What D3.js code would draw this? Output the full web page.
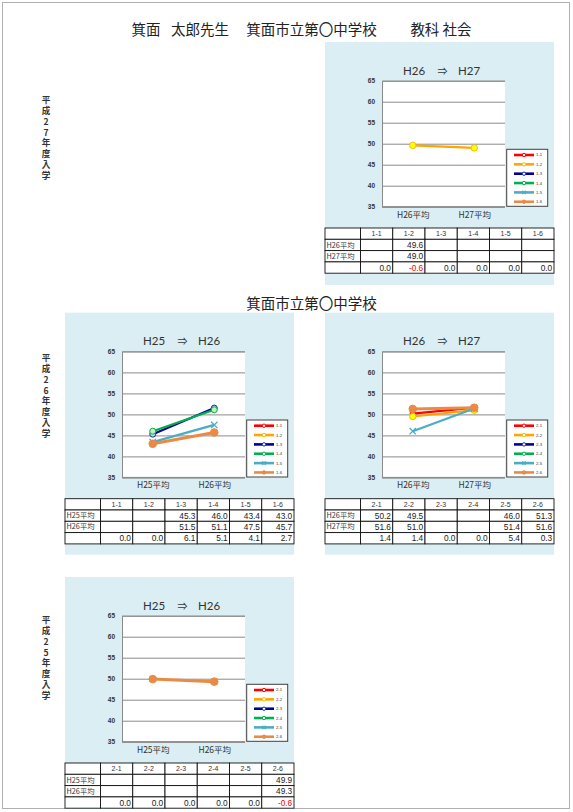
<!DOCTYPE html>
<html><head><meta charset="utf-8">
<script src="https://cdn.jsdelivr.net/npm/d3@7"></script>
<style>body{margin:0;background:#fff;} svg{display:block;}
.vlab{writing-mode:vertical-rl;text-orientation:upright;}</style>
</head><body>
<svg id="c" width="573" height="812"></svg>
<script>
// ---------- DATA ----------
const yTicks = [35, 40, 45, 50, 55, 60, 65];
const classes1 = ["1-1", "1-2", "1-3", "1-4", "1-5", "1-6"];
const classes2 = ["2-1", "2-2", "2-3", "2-4", "2-5", "2-6"];

// 平成27年度入学
const h27Periods = ["H26平均", "H27平均"];
const h27Title = ["H26", "H27"];
const h27Prev = [null, 49.6, null, null, null, null];
const h27Curr = [null, 49.0, null, null, null, null];
const h27Diff = [0.0, -0.6, 0.0, 0.0, 0.0, 0.0];

// 平成26年度入学 (left)
const h26aPeriods = ["H25平均", "H26平均"];
const h26aTitle = ["H25", "H26"];
const h26aPrev = [null, null, 45.3, 46.0, 43.4, 43.0];
const h26aCurr = [null, null, 51.5, 51.1, 47.5, 45.7];
const h26aDiff = [0.0, 0.0, 6.1, 5.1, 4.1, 2.7];

// 平成26年度入学 (right)
const h26bPeriods = ["H26平均", "H27平均"];
const h26bTitle = ["H26", "H27"];
const h26bPrev = [50.2, 49.5, null, null, 46.0, 51.3];
const h26bCurr = [51.6, 51.0, null, null, 51.4, 51.6];
const h26bDiff = [1.4, 1.4, 0.0, 0.0, 5.4, 0.3];

// 平成25年度入学
const h25Periods = ["H25平均", "H26平均"];
const h25Title = ["H25", "H26"];
const h25Prev = [null, null, null, null, null, 49.9];
const h25Curr = [null, null, null, null, null, 49.3];
const h25Diff = [0.0, 0.0, 0.0, 0.0, 0.0, -0.6];

const headerParts = ["箕面", "太郎先生", "箕面市立第〇中学校", "教科 社会"];
const schoolName = "箕面市立第〇中学校";
const entryLabels = ["平成27年度入学", "平成26年度入学", "平成25年度入学"];

// ---------- STYLE ----------
const seriesStyle = [
  {stroke: "#FF0000", w: 2.2, marker: "circle", r: 2.6, fill: "#FF0000", mstroke: "#FF0000"},
  {stroke: "#FFA500", w: 2.2, marker: "circle", r: 3.2, fill: "#FFFF00", mstroke: "#F0C000"},
  {stroke: "#000099", w: 2.2, marker: "circle", r: 3.0, fill: "#B8D8F0", mstroke: "#1030A0"},
  {stroke: "#00B050", w: 2.2, marker: "circle", r: 3.0, fill: "#C6EFB0", mstroke: "#00B050"},
  {stroke: "#4BACC6", w: 2.2, marker: "x", r: 3.2, fill: "none", mstroke: "#4BACC6"},
  {stroke: "#E98A45", w: 3.0, marker: "circle", r: 3.8, fill: "#E98A45", mstroke: "#E98A45"}
];

const svg = d3.select("#c");
const CJK = "'Noto Sans CJK JP', 'Noto Sans', sans-serif";
const SANS = "'Liberation Sans', Arial, sans-serif";

// page frame
svg.append("rect").attr("x", 2.5).attr("y", 2.5).attr("width", 567).attr("height", 806)
  .attr("fill", "none").attr("stroke", "#b0b0b0").attr("stroke-width", 1);

// header
const headerX = [146, 200, 311.5, 441];
headerParts.forEach((t, i) => {
  svg.append("text").attr("x", headerX[i]).attr("y", 35).attr("text-anchor", "middle")
    .attr("font-family", CJK).attr("font-size", 14.5).attr("fill", "#222").text(t);
});
svg.append("text").attr("x", 311.5).attr("y", 309).attr("text-anchor", "middle")
  .attr("font-family", CJK).attr("font-size", 14.5).attr("fill", "#222").text(schoolName);

// vertical entry labels (single vertical text each)
const entryY0 = [95.6, 353.6, 615.6];
entryLabels.forEach((lab, k) => {
  svg.append("text").attr("class", "vlab").attr("x", 46).attr("y", entryY0[k])
    .attr("font-family", CJK).attr("font-size", 8.6).attr("letter-spacing", 2.2)
    .attr("font-weight", "bold").attr("fill", "#333").text(lab);
});

const panels = [
  {x: 325, y: 42, h: 243, title: h27Title, periods: h27Periods, classes: classes1, prev: h27Prev, curr: h27Curr, diff: h27Diff},
  {x: 65, y: 312.7, h: 242, title: h26aTitle, periods: h26aPeriods, classes: classes1, prev: h26aPrev, curr: h26aCurr, diff: h26aDiff},
  {x: 325, y: 312.7, h: 242, title: h26bTitle, periods: h26bPeriods, classes: classes2, prev: h26bPrev, curr: h26bCurr, diff: h26bDiff},
  {x: 65, y: 577, h: 232, title: h25Title, periods: h25Periods, classes: classes2, prev: h25Prev, curr: h25Curr, diff: h25Diff}
];

function drawMarker(g, style, cx, cy, size) {
  const r = size || style.r;
  if (style.marker === "x") {
    g.append("path").attr("d", `M${cx - r},${cy - r}L${cx + r},${cy + r}M${cx - r},${cy + r}L${cx + r},${cy - r}`)
      .attr("stroke", style.mstroke).attr("stroke-width", 1.3).attr("fill", "none");
  } else {
    g.append("circle").attr("cx", cx).attr("cy", cy).attr("r", r)
      .attr("fill", style.fill).attr("stroke", style.mstroke).attr("stroke-width", 1);
  }
}

function drawPanel(p) {
  const W = 229;
  const g = svg.append("g").attr("transform", `translate(${p.x},${p.y})`);
  g.append("rect").attr("width", W).attr("height", p.h).attr("fill", "#DAEEF3");

  const plotL = 57, plotR = 180, plotT = 38.7, plotB = 164.7;
  const x = d3.scalePoint().domain(p.periods).range([plotL, plotR]).padding(0.5);
  const y = d3.scaleLinear().domain([35, 65]).range([plotB, plotT]);

  // title
  const tc = 116.5;
  const tg = g.append("g").attr("font-family", "Lato, 'Open Sans', sans-serif").attr("font-size", 11.5).attr("fill", "#333");
  tg.append("text").attr("x", tc - 27.5).attr("y", 32.7).attr("text-anchor", "middle").text(p.title[0]);
  tg.append("text").attr("x", tc + 1).attr("y", 32.7).attr("text-anchor", "middle").attr("font-family", CJK).attr("font-size", 10).text("⇒");
  tg.append("text").attr("x", tc + 27.5).attr("y", 32.7).attr("text-anchor", "middle").text(p.title[1]);

  // plot area
  g.append("rect").attr("x", plotL).attr("y", plotT).attr("width", plotR - plotL).attr("height", plotB - plotT).attr("fill", "#fff");
  const yAxis = d3.axisLeft(y).tickValues(yTicks).tickSize(-(plotR - plotL)).tickPadding(7);
  const ya = g.append("g").attr("transform", `translate(${plotL},0)`).call(yAxis);
  ya.select(".domain").attr("stroke", "#8a8a8a");
  ya.selectAll(".tick line").attr("stroke", "#8a8a8a").attr("stroke-width", 1);
  ya.selectAll(".tick text").attr("font-family", SANS).attr("font-size", 6.5).attr("font-weight", "bold").attr("fill", "#333");

  const xAxis = d3.axisBottom(x).tickSize(0).tickPadding(5);
  const xa = g.append("g").attr("transform", `translate(0,${plotB})`).call(xAxis);
  xa.select(".domain").attr("stroke", "#8a8a8a").attr("d", `M${plotL},0H${plotR}`);
  xa.selectAll(".tick text").attr("font-family", CJK).attr("font-size", 8.5).attr("fill", "#333");

  // series
  const line = d3.line().x(d => x(d.p)).y(d => y(d.v));
  p.classes.forEach((c, i) => {
    const pts = [];
    if (p.prev[i] != null) pts.push({p: p.periods[0], v: p.prev[i]});
    if (p.curr[i] != null) pts.push({p: p.periods[1], v: p.curr[i]});
    if (!pts.length) return;
    const st = seriesStyle[i];
    g.append("path").datum(pts).attr("d", line).attr("fill", "none")
      .attr("stroke", st.stroke).attr("stroke-width", st.w);
    pts.forEach(d => drawMarker(g, st, x(d.p), y(d.v)));
  });

  // legend
  const lx = 181.7, ly = 107.3;
  g.append("rect").attr("x", lx).attr("y", ly).attr("width", 41).attr("height", 57)
    .attr("fill", "#fff").attr("stroke", "#404040").attr("stroke-width", 1);
  p.classes.forEach((c, i) => {
    const st = seriesStyle[i];
    const yy = ly + 5.7 + i * 9.35;
    g.append("line").attr("x1", lx + 7.3).attr("x2", lx + 27.3).attr("y1", yy).attr("y2", yy)
      .attr("stroke", st.stroke).attr("stroke-width", 2.6);
    drawMarker(g, st.marker === "x" ? st : Object.assign({}, st, {fill: i === 5 ? st.fill : "#fff"}), lx + 17.3, yy, 1.7);
    g.append("text").attr("x", lx + 29.3).attr("y", yy).attr("dy", "0.35em")
      .attr("font-family", SANS).attr("font-size", 4.2).attr("fill", "#333").text(c);
  });

  // table
  const tY = 186, rh = 11.3, c0 = 35.5, cw = (W - c0) / 6;
  const tb = g.append("g");
  const rows = [null, p.periods[0], p.periods[1], ""];
  for (let r = 0; r < 4; r++) {
    for (let c = 0; c < 7; c++) {
      const cx0 = c === 0 ? 0 : c0 + (c - 1) * cw;
      const w = c === 0 ? c0 : cw;
      tb.append("rect").attr("x", cx0).attr("y", tY + r * rh).attr("width", w).attr("height", rh)
        .attr("fill", "#fff").attr("stroke", "#111").attr("stroke-width", 0.9);
    }
  }
  p.classes.forEach((c, i) => {
    tb.append("text").attr("x", c0 + i * cw + cw / 2).attr("y", tY + rh / 2).attr("dy", "0.35em")
      .attr("text-anchor", "middle").attr("font-family", SANS).attr("font-size", 7).attr("fill", "#333").text(c);
  });
  [1, 2].forEach(r => {
    tb.append("text").attr("x", 1.5).attr("y", tY + r * rh + rh / 2).attr("dy", "0.35em")
      .attr("font-family", CJK).attr("font-size", 7.3).attr("fill", "#333").text(rows[r]);
  });
  const vals = [p.prev, p.curr, p.diff];
  vals.forEach((arr, k) => {
    arr.forEach((v, i) => {
      if (v == null) return;
      tb.append("text").attr("x", c0 + (i + 1) * cw - 1.8).attr("y", tY + (k + 1) * rh + rh / 2).attr("dy", "0.36em")
        .attr("text-anchor", "end").attr("font-family", SANS).attr("font-size", 8.3)
        .attr("fill", (k === 2 && v < 0) ? "#FF0000" : "#222").text(v.toFixed(1));
    });
  });
}

panels.forEach(drawPanel);
</script>
</body></html>
